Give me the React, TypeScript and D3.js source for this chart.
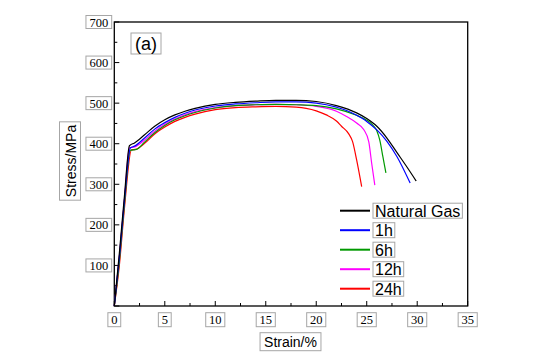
import React, { useEffect, useRef } from "react";
import * as d3 from "d3";

const seriesNames = ["Natural Gas", "1h", "6h", "12h", "24h"];
const seriesColors = ["#000000", "#0000ff", "#009900", "#ff00ff", "#ff0000"];

const naturalGas: [number, number][] = [
  [0, 0], [0.5, 130], [1.0, 270], [1.5, 395], [2.0, 402], [3, 422], [4, 443], [5, 459], [6, 471], [7, 480],
  [8, 487], [10, 497], [12, 502], [14, 505], [16, 507], [18, 507], [20, 504], [22, 494], [24, 476],
  [25, 462], [26, 443], [27, 414], [28, 378], [29, 342], [29.9, 308],
];
const h1: [number, number][] = [
  [0, 0], [0.5, 120], [1.0, 260], [1.6, 390], [2.0, 394], [3, 414], [4, 436], [5, 452], [6, 465], [7, 475],
  [8, 483], [10, 493], [12, 498], [14, 501], [16, 503], [18, 503], [20, 500], [22, 490], [23, 482],
  [24, 470], [25, 455], [26, 434], [27, 406], [28, 368], [29.3, 303],
];
const h6: [number, number][] = [
  [0, 0], [0.5, 110], [1.0, 250], [1.6, 384], [2.2, 386], [3, 404], [4, 427], [5, 445], [6, 459], [7, 469],
  [8, 477], [10, 488], [12, 494], [14, 496], [16, 497], [18, 496], [20, 494], [22, 486], [24, 470],
  [25, 458], [25.6, 446], [26, 432], [26.3, 408], [26.6, 368], [26.9, 328],
];
const h12: [number, number][] = [
  [0, 0], [0.5, 120], [1.0, 260], [1.5, 390], [2.0, 392], [3, 409], [4, 431], [5, 448], [6, 461], [7, 471],
  [8, 479], [10, 489], [12, 494], [14, 496], [16, 497], [18, 496], [20, 492], [22, 480], [23, 467],
  [24, 451], [24.7, 435], [25.2, 405], [25.5, 350], [25.8, 298],
];
const h24: [number, number][] = [
  [0, 0], [0.5, 100], [1.0, 240], [1.7, 385], [2.1, 386], [3, 401], [4, 424], [5, 441], [6, 455], [7, 465],
  [8, 473], [10, 484], [12, 489], [14, 491], [16, 492], [18, 490], [19, 487], [20, 481], [21, 471],
  [22, 456], [22.5, 443], [23.2, 425], [23.6, 405], [24, 360], [24.5, 294],
];
const allSeries = [naturalGas, h1, h6, h12, h24];

const xTicks = [0, 5, 10, 15, 20, 25, 30, 35];
const yTicks = [100, 200, 300, 400, 500, 600, 700];

export default function App() {
  const ref = useRef<SVGSVGElement | null>(null);

  useEffect(() => {
    const svg = d3.select(ref.current);
    svg.selectAll("*").remove();

    const L = 114.3, R = 467.7, T = 22, B = 306;
    const x = d3.scaleLinear().domain([0, 35]).range([L, R]);
    const y = d3.scaleLinear().domain([0, 700]).range([B, T]);

    const serif = "'Liberation Serif', 'Times New Roman', serif";
    const sans = "'Liberation Sans', Arial, sans-serif";

    const boxed = (
      g: d3.Selection<any, any, any, any>,
      cx: number, cy: number, text: string, font: string, size: number,
      anchor: "start" | "middle" | "end", padX: number, boxH: number, rotate = false
    ) => {
      const grp = g.append("g").attr("transform", `translate(${cx},${cy})${rotate ? " rotate(-90)" : ""}`);
      const rect = grp.append("rect").attr("fill", "white").attr("stroke", "#a6a6a6").attr("stroke-width", 1);
      const t = grp.append("text").text(text).attr("font-family", font).attr("font-size", size)
        .attr("dominant-baseline", "central").attr("fill", "#000");
      const w = (t.node() as SVGTextElement).getComputedTextLength();
      const bw = w + 2 * padX;
      let left = 0;
      if (anchor === "start") left = 0;
      else if (anchor === "middle") left = -bw / 2;
      else left = -bw;
      rect.attr("x", left).attr("y", -boxH / 2).attr("width", bw).attr("height", boxH);
      t.attr("x", left + padX).attr("y", 0.5);
    };

    // frame
    svg.append("rect").attr("x", L).attr("y", T).attr("width", R - L).attr("height", B - T)
      .attr("fill", "none").attr("stroke", "#000").attr("stroke-width", 1.3);

    // ticks (inward)
    for (let v = 0; v <= 35; v += 2.5) {
      const major = v % 5 === 0;
      svg.append("line").attr("x1", x(v)).attr("x2", x(v)).attr("y1", B).attr("y2", B - (major ? 5 : 3))
        .attr("stroke", "#000").attr("stroke-width", 1);
    }
    for (let v = 0; v <= 700; v += 50) {
      const major = v % 100 === 0;
      svg.append("line").attr("x1", L).attr("x2", L + (major ? 5 : 3)).attr("y1", y(v)).attr("y2", y(v))
        .attr("stroke", "#000").attr("stroke-width", 1);
    }

    const g = svg.append("g");
    xTicks.forEach((v) => boxed(g, x(v), 319.7, String(v), serif, 12.5, "middle", 3.3, 14));
    yTicks.forEach((v) => boxed(g, 111.7, y(v), String(v), serif, 12.5, "end", 3.5, 13));

    // axis titles
    boxed(g, 290.5, 341.7, "Strain/%", sans, 14, "middle", 4, 18);
    boxed(g, 70, 161, "Stress/MPa", sans, 14, "middle", 3, 21, true);

    // (a)
    boxed(g, 146, 43.5, "(a)", sans, 18, "middle", 4, 21);

    // curves
    const line = d3.line<[number, number]>().x((d) => x(d[0])).y((d) => y(d[1])).curve(d3.curveMonotoneX);
    for (let i = allSeries.length - 1; i >= 0; i--) {
      svg.append("path").attr("d", line(allSeries[i]) as string).attr("fill", "none")
        .attr("stroke", seriesColors[i]).attr("stroke-width", 1.2);
    }

    // legend
    const rows = [210.7, 230.2, 249.7, 269.2, 288.7];
    seriesNames.forEach((name, i) => {
      svg.append("line").attr("x1", 340).attr("x2", 370).attr("y1", rows[i]).attr("y2", rows[i])
        .attr("stroke", seriesColors[i]).attr("stroke-width", 2);
      boxed(g, 373, rows[i], name, sans, 16, "start", 2, 15);
    });
  }, []);

  return (
    <svg ref={ref} width={557} height={356} style={{ position: "absolute", left: 0, top: 0, background: "#fff" }} />
  );
}
